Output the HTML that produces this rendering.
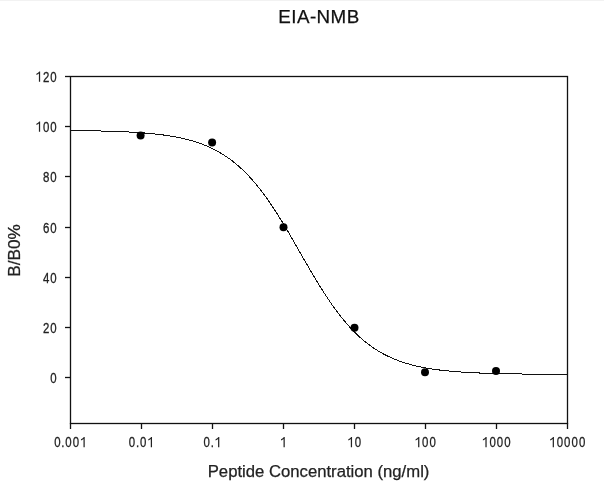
<!DOCTYPE html>
<html><head><meta charset="utf-8"><style>
html,body{margin:0;padding:0;background:#fff;}
body{width:604px;height:495px;overflow:hidden;}
svg{display:block;will-change:transform;font-family:"Liberation Sans",sans-serif;}
</style></head><body>
<svg width="604" height="495" viewBox="0 0 604 495">
<rect x="0" y="0" width="604" height="495" fill="#fff"/>
<rect x="0" y="0" width="604" height="1" fill="#f2f2f2"/>
<text x="319" y="22.6" text-anchor="middle" font-size="18.8" letter-spacing="0.45" fill="#111" stroke="#111" stroke-width="0.25">EIA-NMB</text>
<g stroke="#111" stroke-width="1.3" fill="none">
<rect x="70.5" y="76.5" width="497" height="347"/>
<line x1="65" y1="76.5" x2="70" y2="76.5"/>
<line x1="65" y1="126.5" x2="70" y2="126.5"/>
<line x1="65" y1="176.5" x2="70" y2="176.5"/>
<line x1="65" y1="227.5" x2="70" y2="227.5"/>
<line x1="65" y1="277.5" x2="70" y2="277.5"/>
<line x1="65" y1="327.5" x2="70" y2="327.5"/>
<line x1="65" y1="377.5" x2="70" y2="377.5"/>
<line x1="70.5" y1="423" x2="70.5" y2="429"/>
<line x1="141.5" y1="423" x2="141.5" y2="429"/>
<line x1="212.5" y1="423" x2="212.5" y2="429"/>
<line x1="283.5" y1="423" x2="283.5" y2="429"/>
<line x1="354.5" y1="423" x2="354.5" y2="429"/>
<line x1="425.5" y1="423" x2="425.5" y2="429"/>
<line x1="496.5" y1="423" x2="496.5" y2="429"/>
<line x1="567.5" y1="423" x2="567.5" y2="429"/>
</g>
<g font-size="14.8">
<g transform="translate(57.20,81.80) scale(0.9,1)" fill="#222" stroke="#222" stroke-width="0.3"><path transform="translate(-20.578,0) scale(0.00621,-0.00723) translate(-569.5,0)" d="M830,0 L610,0 L610,1147 Q480,1040 160,934 L160,1108 Q520,1230 680,1409 L830,1409 Z"/><text transform="translate(-12.347,0) scale(0.86,1)" text-anchor="middle">2</text><text transform="translate(-4.116,0) scale(0.86,1)" text-anchor="middle">0</text></g>
<g transform="translate(57.20,131.80) scale(0.9,1)" fill="#222" stroke="#222" stroke-width="0.3"><path transform="translate(-20.578,0) scale(0.00621,-0.00723) translate(-569.5,0)" d="M830,0 L610,0 L610,1147 Q480,1040 160,934 L160,1108 Q520,1230 680,1409 L830,1409 Z"/><text transform="translate(-12.347,0) scale(0.86,1)" text-anchor="middle">0</text><text transform="translate(-4.116,0) scale(0.86,1)" text-anchor="middle">0</text></g>
<g transform="translate(57.20,181.80) scale(0.9,1)" fill="#222" stroke="#222" stroke-width="0.3"><text transform="translate(-12.347,0) scale(0.86,1)" text-anchor="middle">8</text><text transform="translate(-4.116,0) scale(0.86,1)" text-anchor="middle">0</text></g>
<g transform="translate(57.20,232.80) scale(0.9,1)" fill="#222" stroke="#222" stroke-width="0.3"><text transform="translate(-12.347,0) scale(0.86,1)" text-anchor="middle">6</text><text transform="translate(-4.116,0) scale(0.86,1)" text-anchor="middle">0</text></g>
<g transform="translate(57.20,282.80) scale(0.9,1)" fill="#222" stroke="#222" stroke-width="0.3"><text transform="translate(-12.347,0) scale(0.86,1)" text-anchor="middle">4</text><text transform="translate(-4.116,0) scale(0.86,1)" text-anchor="middle">0</text></g>
<g transform="translate(57.20,332.80) scale(0.9,1)" fill="#222" stroke="#222" stroke-width="0.3"><text transform="translate(-12.347,0) scale(0.86,1)" text-anchor="middle">2</text><text transform="translate(-4.116,0) scale(0.86,1)" text-anchor="middle">0</text></g>
<g transform="translate(57.20,382.80) scale(0.9,1)" fill="#222" stroke="#222" stroke-width="0.3"><text transform="translate(-4.116,0) scale(0.86,1)" text-anchor="middle">0</text></g>
<g transform="translate(70.30,447.30) scale(0.9,1)" fill="#222" stroke="#222" stroke-width="0.3"><text transform="translate(-14.403,0) scale(0.86,1)" text-anchor="middle">0</text><text transform="translate(-8.231,0) scale(0.86,1)" text-anchor="middle">.</text><text transform="translate(-2.060,0) scale(0.86,1)" text-anchor="middle">0</text><text transform="translate(6.171,0) scale(0.86,1)" text-anchor="middle">0</text><path transform="translate(14.403,0) scale(0.00621,-0.00723) translate(-569.5,0)" d="M830,0 L610,0 L610,1147 Q480,1040 160,934 L160,1108 Q520,1230 680,1409 L830,1409 Z"/></g>
<g transform="translate(141.30,447.30) scale(0.9,1)" fill="#222" stroke="#222" stroke-width="0.3"><text transform="translate(-10.287,0) scale(0.86,1)" text-anchor="middle">0</text><text transform="translate(-4.116,0) scale(0.86,1)" text-anchor="middle">.</text><text transform="translate(2.056,0) scale(0.86,1)" text-anchor="middle">0</text><path transform="translate(10.287,0) scale(0.00621,-0.00723) translate(-569.5,0)" d="M830,0 L610,0 L610,1147 Q480,1040 160,934 L160,1108 Q520,1230 680,1409 L830,1409 Z"/></g>
<g transform="translate(212.30,447.30) scale(0.9,1)" fill="#222" stroke="#222" stroke-width="0.3"><text transform="translate(-6.171,0) scale(0.86,1)" text-anchor="middle">0</text><text transform="translate(0.000,0) scale(0.86,1)" text-anchor="middle">.</text><path transform="translate(6.171,0) scale(0.00621,-0.00723) translate(-569.5,0)" d="M830,0 L610,0 L610,1147 Q480,1040 160,934 L160,1108 Q520,1230 680,1409 L830,1409 Z"/></g>
<g transform="translate(283.30,447.30) scale(0.9,1)" fill="#222" stroke="#222" stroke-width="0.3"><path transform="translate(0.000,0) scale(0.00621,-0.00723) translate(-569.5,0)" d="M830,0 L610,0 L610,1147 Q480,1040 160,934 L160,1108 Q520,1230 680,1409 L830,1409 Z"/></g>
<g transform="translate(354.30,447.30) scale(0.9,1)" fill="#222" stroke="#222" stroke-width="0.3"><path transform="translate(-4.116,0) scale(0.00621,-0.00723) translate(-569.5,0)" d="M830,0 L610,0 L610,1147 Q480,1040 160,934 L160,1108 Q520,1230 680,1409 L830,1409 Z"/><text transform="translate(4.116,0) scale(0.86,1)" text-anchor="middle">0</text></g>
<g transform="translate(425.30,447.30) scale(0.9,1)" fill="#222" stroke="#222" stroke-width="0.3"><path transform="translate(-8.231,0) scale(0.00621,-0.00723) translate(-569.5,0)" d="M830,0 L610,0 L610,1147 Q480,1040 160,934 L160,1108 Q520,1230 680,1409 L830,1409 Z"/><text transform="translate(-0.000,0) scale(0.86,1)" text-anchor="middle">0</text><text transform="translate(8.231,0) scale(0.86,1)" text-anchor="middle">0</text></g>
<g transform="translate(496.30,447.30) scale(0.9,1)" fill="#222" stroke="#222" stroke-width="0.3"><path transform="translate(-12.347,0) scale(0.00621,-0.00723) translate(-569.5,0)" d="M830,0 L610,0 L610,1147 Q480,1040 160,934 L160,1108 Q520,1230 680,1409 L830,1409 Z"/><text transform="translate(-4.116,0) scale(0.86,1)" text-anchor="middle">0</text><text transform="translate(4.116,0) scale(0.86,1)" text-anchor="middle">0</text><text transform="translate(12.347,0) scale(0.86,1)" text-anchor="middle">0</text></g>
<g transform="translate(567.30,447.30) scale(0.9,1)" fill="#222" stroke="#222" stroke-width="0.3"><path transform="translate(-16.462,0) scale(0.00621,-0.00723) translate(-569.5,0)" d="M830,0 L610,0 L610,1147 Q480,1040 160,934 L160,1108 Q520,1230 680,1409 L830,1409 Z"/><text transform="translate(-8.231,0) scale(0.86,1)" text-anchor="middle">0</text><text transform="translate(0.000,0) scale(0.86,1)" text-anchor="middle">0</text><text transform="translate(8.231,0) scale(0.86,1)" text-anchor="middle">0</text><text transform="translate(16.462,0) scale(0.86,1)" text-anchor="middle">0</text></g>
</g>
<text x="318.6" y="476.8" text-anchor="middle" font-size="16.7" fill="#222" stroke="#222" stroke-width="0.25">Peptide Concentration (ng/ml)</text>
<text transform="translate(19.8,250.5) rotate(-90)" text-anchor="middle" font-size="17.2" fill="#222" stroke="#222" stroke-width="0.25">B/B0%</text>
<path d="M70.5,130.54 L71.5,130.55 L72.5,130.56 L73.5,130.57 L74.5,130.58 L75.5,130.59 L76.5,130.60 L77.5,130.61 L78.5,130.62 L79.5,130.64 L80.5,130.65 L81.5,130.66 L82.5,130.68 L83.5,130.69 L84.5,130.70 L85.5,130.72 L86.5,130.73 L87.5,130.75 L88.5,130.77 L89.5,130.78 L90.5,130.80 L91.5,130.82 L92.5,130.84 L93.5,130.85 L94.5,130.87 L95.5,130.89 L96.5,130.91 L97.5,130.93 L98.5,130.96 L99.5,130.98 L100.5,131.00 L101.5,131.02 L102.5,131.05 L103.5,131.07 L104.5,131.10 L105.5,131.12 L106.5,131.15 L107.5,131.18 L108.5,131.21 L109.5,131.24 L110.5,131.27 L111.5,131.30 L112.5,131.33 L113.5,131.36 L114.5,131.40 L115.5,131.43 L116.5,131.47 L117.5,131.50 L118.5,131.54 L119.5,131.58 L120.5,131.62 L121.5,131.66 L122.5,131.70 L123.5,131.75 L124.5,131.79 L125.5,131.84 L126.5,131.89 L127.5,131.93 L128.5,131.99 L129.5,132.04 L130.5,132.09 L131.5,132.14 L132.5,132.20 L133.5,132.26 L134.5,132.32 L135.5,132.38 L136.5,132.44 L137.5,132.51 L138.5,132.57 L139.5,132.64 L140.5,132.71 L141.5,132.78 L142.5,132.86 L143.5,132.94 L144.5,133.01 L145.5,133.10 L146.5,133.18 L147.5,133.26 L148.5,133.35 L149.5,133.44 L150.5,133.54 L151.5,133.63 L152.5,133.73 L153.5,133.83 L154.5,133.94 L155.5,134.04 L156.5,134.15 L157.5,134.27 L158.5,134.38 L159.5,134.50 L160.5,134.62 L161.5,134.75 L162.5,134.88 L163.5,135.01 L164.5,135.15 L165.5,135.29 L166.5,135.44 L167.5,135.58 L168.5,135.74 L169.5,135.90 L170.5,136.06 L171.5,136.22 L172.5,136.39 L173.5,136.57 L174.5,136.75 L175.5,136.93 L176.5,137.12 L177.5,137.32 L178.5,137.52 L179.5,137.73 L180.5,137.94 L181.5,138.16 L182.5,138.38 L183.5,138.61 L184.5,138.84 L185.5,139.09 L186.5,139.34 L187.5,139.59 L188.5,139.85 L189.5,140.12 L190.5,140.40 L191.5,140.68 L192.5,140.97 L193.5,141.27 L194.5,141.58 L195.5,141.89 L196.5,142.22 L197.5,142.55 L198.5,142.89 L199.5,143.24 L200.5,143.59 L201.5,143.96 L202.5,144.34 L203.5,144.72 L204.5,145.12 L205.5,145.53 L206.5,145.94 L207.5,146.37 L208.5,146.81 L209.5,147.26 L210.5,147.72 L211.5,148.19 L212.5,148.67 L213.5,149.16 L214.5,149.67 L215.5,150.19 L216.5,150.72 L217.5,151.27 L218.5,151.82 L219.5,152.40 L220.5,152.98 L221.5,153.58 L222.5,154.19 L223.5,154.82 L224.5,155.46 L225.5,156.11 L226.5,156.78 L227.5,157.47 L228.5,158.17 L229.5,158.89 L230.5,159.62 L231.5,160.37 L232.5,161.13 L233.5,161.92 L234.5,162.71 L235.5,163.53 L236.5,164.36 L237.5,165.21 L238.5,166.08 L239.5,166.96 L240.5,167.87 L241.5,168.79 L242.5,169.73 L243.5,170.69 L244.5,171.66 L245.5,172.66 L246.5,173.67 L247.5,174.70 L248.5,175.75 L249.5,176.82 L250.5,177.91 L251.5,179.02 L252.5,180.15 L253.5,181.30 L254.5,182.46 L255.5,183.65 L256.5,184.85 L257.5,186.08 L258.5,187.32 L259.5,188.58 L260.5,189.86 L261.5,191.16 L262.5,192.48 L263.5,193.82 L264.5,195.17 L265.5,196.55 L266.5,197.94 L267.5,199.35 L268.5,200.78 L269.5,202.22 L270.5,203.68 L271.5,205.16 L272.5,206.66 L273.5,208.17 L274.5,209.70 L275.5,211.24 L276.5,212.79 L277.5,214.37 L278.5,215.95 L279.5,217.55 L280.5,219.16 L281.5,220.79 L282.5,222.43 L283.5,224.07 L284.5,225.73 L285.5,227.40 L286.5,229.08 L287.5,230.77 L288.5,232.47 L289.5,234.17 L290.5,235.89 L291.5,237.61 L292.5,239.33 L293.5,241.06 L294.5,242.80 L295.5,244.53 L296.5,246.28 L297.5,248.02 L298.5,249.77 L299.5,251.51 L300.5,253.26 L301.5,255.01 L302.5,256.75 L303.5,258.50 L304.5,260.24 L305.5,261.98 L306.5,263.71 L307.5,265.44 L308.5,267.17 L309.5,268.89 L310.5,270.60 L311.5,272.30 L312.5,274.00 L313.5,275.69 L314.5,277.37 L315.5,279.03 L316.5,280.69 L317.5,282.34 L318.5,283.98 L319.5,285.60 L320.5,287.21 L321.5,288.81 L322.5,290.39 L323.5,291.96 L324.5,293.52 L325.5,295.06 L326.5,296.59 L327.5,298.10 L328.5,299.59 L329.5,301.07 L330.5,302.53 L331.5,303.97 L332.5,305.40 L333.5,306.81 L334.5,308.20 L335.5,309.57 L336.5,310.92 L337.5,312.26 L338.5,313.58 L339.5,314.87 L340.5,316.15 L341.5,317.41 L342.5,318.66 L343.5,319.88 L344.5,321.08 L345.5,322.26 L346.5,323.43 L347.5,324.57 L348.5,325.70 L349.5,326.81 L350.5,327.89 L351.5,328.96 L352.5,330.01 L353.5,331.04 L354.5,332.06 L355.5,333.05 L356.5,334.02 L357.5,334.98 L358.5,335.92 L359.5,336.84 L360.5,337.74 L361.5,338.62 L362.5,339.49 L363.5,340.34 L364.5,341.17 L365.5,341.98 L366.5,342.78 L367.5,343.56 L368.5,344.32 L369.5,345.07 L370.5,345.80 L371.5,346.52 L372.5,347.22 L373.5,347.90 L374.5,348.57 L375.5,349.22 L376.5,349.86 L377.5,350.49 L378.5,351.10 L379.5,351.70 L380.5,352.28 L381.5,352.85 L382.5,353.41 L383.5,353.95 L384.5,354.48 L385.5,355.00 L386.5,355.50 L387.5,356.00 L388.5,356.48 L389.5,356.95 L390.5,357.41 L391.5,357.86 L392.5,358.29 L393.5,358.72 L394.5,359.14 L395.5,359.54 L396.5,359.94 L397.5,360.32 L398.5,360.70 L399.5,361.06 L400.5,361.42 L401.5,361.77 L402.5,362.11 L403.5,362.44 L404.5,362.76 L405.5,363.07 L406.5,363.38 L407.5,363.68 L408.5,363.97 L409.5,364.25 L410.5,364.53 L411.5,364.80 L412.5,365.06 L413.5,365.31 L414.5,365.56 L415.5,365.80 L416.5,366.04 L417.5,366.27 L418.5,366.49 L419.5,366.71 L420.5,366.92 L421.5,367.12 L422.5,367.32 L423.5,367.52 L424.5,367.71 L425.5,367.89 L426.5,368.07 L427.5,368.25 L428.5,368.42 L429.5,368.58 L430.5,368.74 L431.5,368.90 L432.5,369.05 L433.5,369.20 L434.5,369.35 L435.5,369.49 L436.5,369.62 L437.5,369.76 L438.5,369.89 L439.5,370.01 L440.5,370.14 L441.5,370.25 L442.5,370.37 L443.5,370.48 L444.5,370.59 L445.5,370.70 L446.5,370.80 L447.5,370.90 L448.5,371.00 L449.5,371.10 L450.5,371.19 L451.5,371.28 L452.5,371.37 L453.5,371.45 L454.5,371.54 L455.5,371.62 L456.5,371.70 L457.5,371.77 L458.5,371.85 L459.5,371.92 L460.5,371.99 L461.5,372.06 L462.5,372.12 L463.5,372.19 L464.5,372.25 L465.5,372.31 L466.5,372.37 L467.5,372.43 L468.5,372.49 L469.5,372.54 L470.5,372.59 L471.5,372.65 L472.5,372.70 L473.5,372.74 L474.5,372.79 L475.5,372.84 L476.5,372.88 L477.5,372.93 L478.5,372.97 L479.5,373.01 L480.5,373.05 L481.5,373.09 L482.5,373.13 L483.5,373.16 L484.5,373.20 L485.5,373.23 L486.5,373.27 L487.5,373.30 L488.5,373.33 L489.5,373.36 L490.5,373.39 L491.5,373.42 L492.5,373.45 L493.5,373.48 L494.5,373.50 L495.5,373.53 L496.5,373.56 L497.5,373.58 L498.5,373.60 L499.5,373.63 L500.5,373.65 L501.5,373.67 L502.5,373.69 L503.5,373.71 L504.5,373.74 L505.5,373.75 L506.5,373.77 L507.5,373.79 L508.5,373.81 L509.5,373.83 L510.5,373.85 L511.5,373.86 L512.5,373.88 L513.5,373.89 L514.5,373.91 L515.5,373.92 L516.5,373.94 L517.5,373.95 L518.5,373.97 L519.5,373.98 L520.5,373.99 L521.5,374.00 L522.5,374.02 L523.5,374.03 L524.5,374.04 L525.5,374.05 L526.5,374.06 L527.5,374.07 L528.5,374.08 L529.5,374.09 L530.5,374.10 L531.5,374.11 L532.5,374.12 L533.5,374.13 L534.5,374.14 L535.5,374.15 L536.5,374.15 L537.5,374.16 L538.5,374.17 L539.5,374.18 L540.5,374.18 L541.5,374.19 L542.5,374.20 L543.5,374.20 L544.5,374.21 L545.5,374.22 L546.5,374.22 L547.5,374.23 L548.5,374.24 L549.5,374.24 L550.5,374.25 L551.5,374.25 L552.5,374.26 L553.5,374.26 L554.5,374.27 L555.5,374.27 L556.5,374.28 L557.5,374.28 L558.5,374.28 L559.5,374.29 L560.5,374.29 L561.5,374.30 L562.5,374.30 L563.5,374.30 L564.5,374.31 L565.5,374.31 L566.5,374.32 L567.5,374.32" stroke="#111" stroke-width="1" fill="none" shape-rendering="crispEdges"/>
<g fill="#000">
<circle cx="140.6" cy="135.5" r="4.0"/>
<circle cx="212.1" cy="142.5" r="4.0"/>
<circle cx="283.5" cy="227.2" r="4.0"/>
<circle cx="354.5" cy="327.8" r="4.0"/>
<circle cx="425.0" cy="372.2" r="4.0"/>
<circle cx="496.0" cy="370.9" r="4.0"/>
</g>
</svg>
</body></html>
